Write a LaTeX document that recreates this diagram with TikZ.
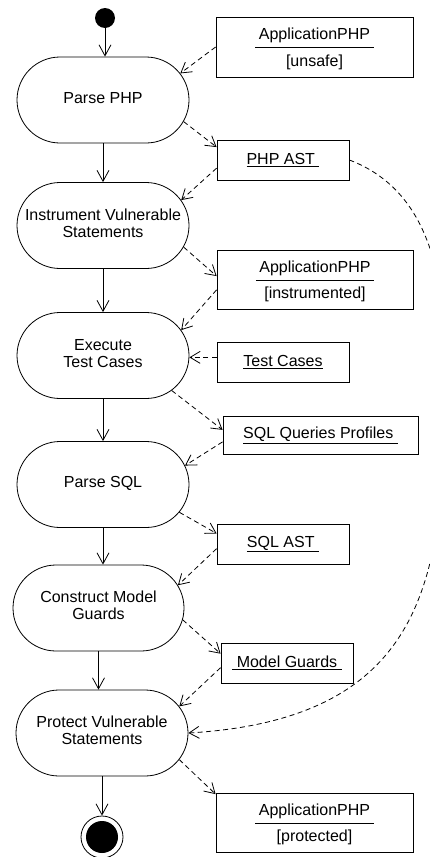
\documentclass[tikz,border=0pt]{standalone}
\usepackage{fontspec}
\setmainfont{Liberation Sans}
\usetikzlibrary{shapes.misc, arrows.meta}
\newcommand{\acttext}[1]{\makebox[0pt]{\begin{tabular}{@{}c@{}}#1\end{tabular}}}
\newcommand{\objstate}[2]{\begin{tabular}{@{\hspace{3.5pt}}c@{\hspace{3.5pt}}}\noalign{\vskip 5pt}#1\\[2.4pt]\hline\rule{0pt}{18.5pt}#2\end{tabular}}

\begin{document}
\begin{tikzpicture}[x=1pt, y=-1pt, line width=0.8pt, font=\fontsize{16}{17}\selectfont,
    action/.style={draw, rounded rectangle, minimum width=172pt, minimum height=86pt, inner sep=0pt},
    object/.style={draw, rectangle, minimum width=132pt, minimum height=40pt, inner sep=2pt, align=center},
    ctrl/.style={-{Straight Barb[length=11pt,width=12pt]}},
    flow/.style={dash pattern=on 5pt off 3.5pt, -{Straight Barb[length=10pt,width=12pt]}}]
    \useasboundingbox (0,0) rectangle (430,857);

    \node[circle, fill, minimum size=20pt, inner sep=0pt] (start) at (105,18) {};
    \node[action] (parsephp) at (103,100) {\acttext{Parse PHP}};
    \node[action] (instr) at (103,225.5) {\acttext{Instrument Vulnerable\\Statements}};
    \node[action] (exec) at (103,355.5) {\acttext{Execute\\Test Cases}};
    \node[action] (parsesql) at (103,484.5) {\acttext{Parse SQL}};
    \node[action, minimum width=171pt] (construct) at (98.5,608) {\acttext{Construct Model\\Guards}};
    \node[action] (protect) at (102,733) {\acttext{Protect Vulnerable\\Statements}};
    \node[draw, circle, minimum size=42pt, inner sep=0pt] (final) at (102,837) {};
    \fill (final.center) circle (16pt);

    \node[object, minimum width=197pt, minimum height=60pt] (appunsafe) at (314.5,47) {\objstate{ApplicationPHP}{[unsafe]}};
    \node[object] (phpast) at (283,160) {\underline{PHP AST\ }};
    \node[object, minimum width=196pt, minimum height=59pt] (appinstr) at (315,279.5) {\objstate{ApplicationPHP}{[instrumented]}};
    \node[object] (testcases) at (283,362) {\underline{Test Cases}};
    \node[object, minimum width=195pt, minimum height=38pt] (profiles) at (320.5,435) {\underline{SQL Queries Profiles\ }};
    \node[object] (sqlast) at (283,544) {\underline{SQL AST\ }};
    \node[object] (guards) at (287,663) {\underline{~Model Guards\ }};
    \node[object, minimum width=197pt, minimum height=59pt] (appprot) at (314.5,822.5) {\objstate{ApplicationPHP}{[protected]}};

    \draw[ctrl] (start.south) -- (start.south |- parsephp.north);
    \draw[ctrl] (parsephp.south) -- (parsephp.south |- instr.north);
    \draw[ctrl] (instr.south) -- (instr.south |- exec.north);
    \draw[ctrl] (exec.south) -- (exec.south |- parsesql.north);
    \draw[ctrl] (parsesql.south) -- (parsesql.south |- construct.north);
    \draw[ctrl] (construct.south) -- (construct.south |- protect.north);
    \draw[ctrl] (protect.south) -- (protect.south |- final.north);

    \draw[flow] (appunsafe.west) -- (parsephp.19);
    \draw[flow] (parsephp.-15) -- (phpast.169);
    \draw[flow] (phpast.187) -- (instr.18);
    \draw[flow] (instr.-15) -- (appinstr.178);
    \draw[flow] (appinstr.186) -- (exec.18);
    \draw[flow] (testcases.176) -- (testcases.176 -| exec.east);
    \draw[flow] (exec.-27) -- (profiles.177);
    \draw[flow] (profiles.184) -- (parsesql.13);
    \draw[flow] (parsesql.-20) -- (sqlast.171);
    \draw[flow] (sqlast.184) -- (construct.16);
    \draw[flow] (construct.-8) -- (guards.172);
    \draw[flow] (guards.184) -- (protect.19);
    \draw[flow] (protect.-19) -- (appprot.164);
    \draw[flow] (phpast.east) .. controls (415,185) and (445,250) .. (445,360)
        .. controls (445,560) and (440,718) .. (protect.east);
\end{tikzpicture}
\end{document}
